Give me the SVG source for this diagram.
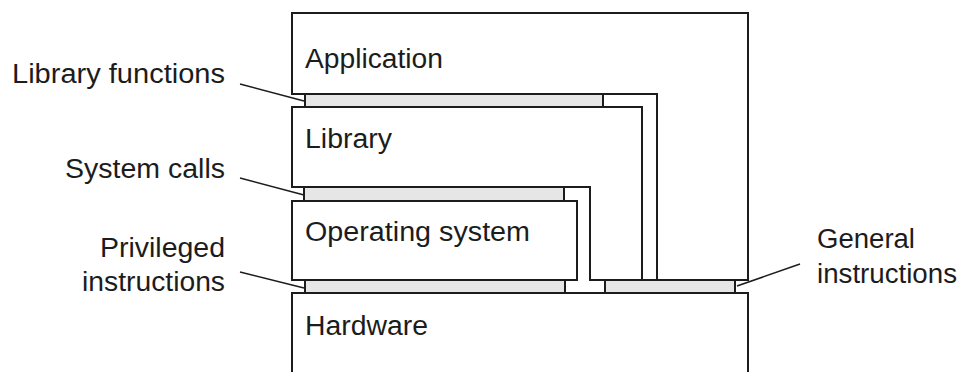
<svg xmlns="http://www.w3.org/2000/svg" width="963" height="372" viewBox="0 0 963 372">
<style>
.box{fill:#fff;stroke:#1c1c1c;stroke-width:2;stroke-linejoin:miter}
.strip{fill:#e6e6e6;stroke:#1c1c1c;stroke-width:2}
.lead{fill:none;stroke:#1c1c1c;stroke-width:1.6}
.t{font-family:"Liberation Sans",Arial,sans-serif;font-size:27px;fill:#1c1c1c}
</style>
<rect width="963" height="372" fill="#fff"/>
<g id="hardware">
<path class="box" d="M292,380 V293 H748 V380"/>
<text class="t" x="305" y="335" textLength="123" lengthAdjust="spacingAndGlyphs">Hardware</text>
</g>
<g id="application">
<polygon class="box" points="292,13 748,13 748,280 657,280 657,94 292,94"/>
<text class="t" x="305" y="68" textLength="138" lengthAdjust="spacingAndGlyphs">Application</text>
</g>
<g id="library">
<polygon class="box" points="292,107 642,107 642,280 590,280 590,187 292,187"/>
<text class="t" x="305" y="148" textLength="87" lengthAdjust="spacingAndGlyphs">Library</text>
</g>
<g id="operating-system">
<rect class="box" x="292" y="201" width="285" height="79"/>
<text class="t" x="305" y="241" textLength="225" lengthAdjust="spacingAndGlyphs">Operating system</text>
</g>
<g id="library-functions">
<rect class="strip" x="305" y="94" width="298" height="13"/>
<text class="t" x="12" y="83" textLength="213" lengthAdjust="spacingAndGlyphs">Library functions</text>
</g>
<g id="system-calls">
<rect class="strip" x="304" y="187" width="260" height="14"/>
<text class="t" x="65" y="178" textLength="160" lengthAdjust="spacingAndGlyphs">System calls</text>
</g>
<g id="privileged-instructions">
<rect class="strip" x="305" y="280" width="260" height="13"/>
<text class="t" x="100" y="257" textLength="125" lengthAdjust="spacingAndGlyphs">Privileged</text>
<text class="t" x="82" y="291" textLength="143" lengthAdjust="spacingAndGlyphs">instructions</text>
</g>
<g id="general-instructions">
<rect class="strip" x="605" y="280" width="130" height="13"/>
<text class="t" x="817" y="248" textLength="98" lengthAdjust="spacingAndGlyphs">General</text>
<text class="t" x="817" y="283" textLength="140" lengthAdjust="spacingAndGlyphs">instructions</text>
</g>
<g id="connectors">
<line class="lead" x1="240" y1="84" x2="304" y2="101"/>
<line class="lead" x1="240" y1="178" x2="304" y2="195"/>
<line class="lead" x1="240" y1="272" x2="304" y2="288"/>
<line class="lead" x1="800" y1="264" x2="737" y2="286"/>
</g>
</svg>
